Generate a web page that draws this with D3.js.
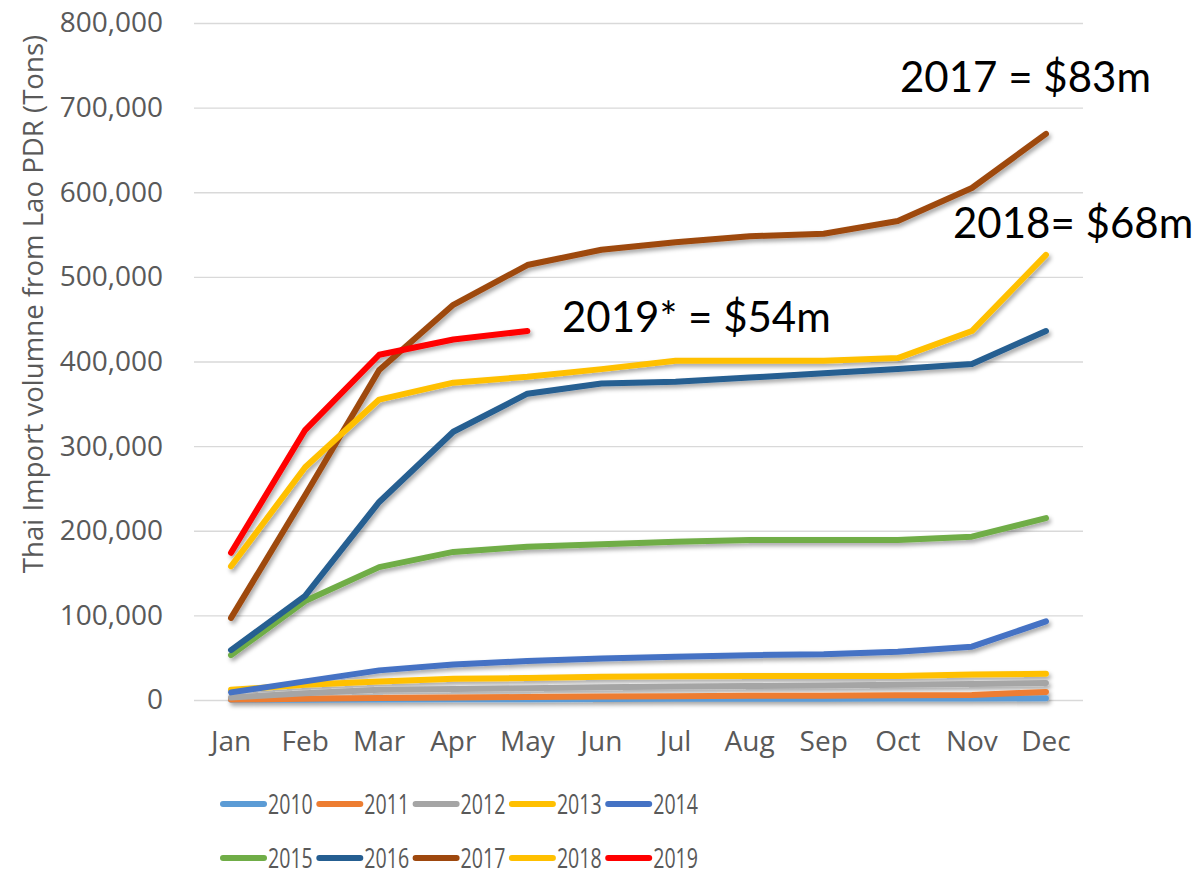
<!DOCTYPE html>
<html><head><meta charset="utf-8">
<script src="https://cdn.jsdelivr.net/npm/d3@7"></script>
<style>body{margin:0;background:#fff}svg{display:block}</style>
</head><body>
<svg id="c" width="1201" height="869"></svg>
<script>
const months = ["Jan","Feb","Mar","Apr","May","Jun","Jul","Aug","Sep","Oct","Nov","Dec"];
const years = ["2010","2011","2012","2013","2014","2015","2016","2017","2018","2019"];
const colors = ["#5b9bd5","#ed7d31","#a5a5a5","#ffc000","#4472c4","#70ad47","#255e91","#9e480e","#ffc000","#ff0000"];
const v2010 = [200,400,600,800,1000,1200,1400,1500,1600,1700,1800,2000];
const v2011 = [500,1500,2500,3000,3500,4000,4500,5000,5000,5500,6000,9500];
const v2012 = [3000,8000,12000,13000,14000,15000,16000,16500,17000,18000,19000,20000];
const v2013 = [12000,18000,22000,25000,26000,27500,28000,28500,28500,28500,30000,31000];
const v2014 = [9000,22000,35000,42000,46000,49000,51000,53000,54000,57000,63000,93000];
const v2015 = [53000,117000,157000,175000,181000,184000,187000,189000,189000,189000,193000,215000];
const v2016 = [59000,123000,234000,317000,362000,374000,376000,381000,386000,391000,397000,436000];
const v2017 = [97000,242000,390000,467000,514000,532000,541000,548000,551000,566000,605000,669000];
const v2018 = [158000,275000,355000,375000,382000,391000,401000,401000,401000,404000,436000,526000];
const v2019 = [174000,319000,408000,426000,436000];
const seriesValues = [v2010,v2011,v2012,v2013,v2014,v2015,v2016,v2017,v2018,v2019];
const yTicks = [0,100000,200000,300000,400000,500000,600000,700000,800000];
const annotations = ["2017 = $83m","2018= $68m","2019* = $54m"];

const svg = d3.select("#c");
const x = d3.scaleBand().domain(months).range([194,1083]);
const xc = m => x(m) + x.bandwidth()/2;
const y = d3.scaleLinear().domain([0,800000]).range([700,23]);

const defs = svg.append("defs");
const f = defs.append("filter").attr("id","sh").attr("x","-10%").attr("y","-10%").attr("width","130%").attr("height","130%");
f.append("feDropShadow").attr("dx",2).attr("dy",3).attr("stdDeviation",2.2).attr("flood-color","#000").attr("flood-opacity",0.35);

// gridlines
const grid = svg.append("g").attr("transform","translate(194,0)")
  .call(d3.axisLeft(y).tickValues(yTicks).tickSize(-889).tickFormat(""));
grid.select(".domain").remove();
grid.selectAll("line").attr("stroke","#d9d9d9").attr("stroke-width",1.3);

// y tick labels
const ya = svg.append("g").attr("transform","translate(163,0)")
  .call(d3.axisLeft(y).tickValues(yTicks).tickSize(0).tickPadding(0).tickFormat(d3.format(",")));
ya.select(".domain").remove();
ya.selectAll("text").attr("font-family","Open Sans").attr("font-size",28).attr("fill","#595959");

// x labels
const xa = svg.append("g").attr("transform","translate(0,700)")
  .call(d3.axisBottom(x).tickSize(0).tickPadding(31));
xa.select(".domain").remove();
xa.selectAll("text").attr("font-family","Open Sans").attr("font-size",28).attr("fill","#595959");

// y title
svg.append("text").attr("transform","translate(43,304) rotate(-90)").attr("text-anchor","middle")
  .attr("font-family","Open Sans").attr("font-size",27.6).attr("fill","#595959")
  .text("Thai Import volumne from Lao PDR (Tons)");

// lines
const line = d3.line().x((d,i)=>xc(months[i])).y(d=>y(d));
const lg = svg.append("g").attr("filter","url(#sh)");
seriesValues.forEach((vals,k)=>{
  lg.append("path").datum(vals).attr("d",line).attr("fill","none")
    .attr("stroke",colors[k]).attr("stroke-width",6)
    .attr("stroke-linejoin","round").attr("stroke-linecap","round");
});

// annotations
const annPos = [[900,92],[953,238],[562,332]];
annotations.forEach((t,i)=>{
  svg.append("text").attr("x",annPos[i][0]).attr("y",annPos[i][1])
    .attr("font-family","Lato").attr("font-size",42).attr("fill","#000").text(t);
});

// legend
const leg = svg.append("g");
years.forEach((yr,i)=>{
  const row = Math.floor(i/5), col = i%5;
  const lx = 223 + col*96.3, ly = 804 + row*54;
  leg.append("line").attr("x1",lx).attr("x2",lx+41).attr("y1",ly).attr("y2",ly)
    .attr("stroke",colors[i]).attr("stroke-width",6).attr("stroke-linecap","round");
  leg.append("text").attr("transform",`translate(${lx+45},${ly}) scale(0.7,1)`).attr("dy","0.35em")
    .attr("font-family","Open Sans").attr("font-size",28).attr("fill","#595959").text(yr);
});
</script>
</body></html>
